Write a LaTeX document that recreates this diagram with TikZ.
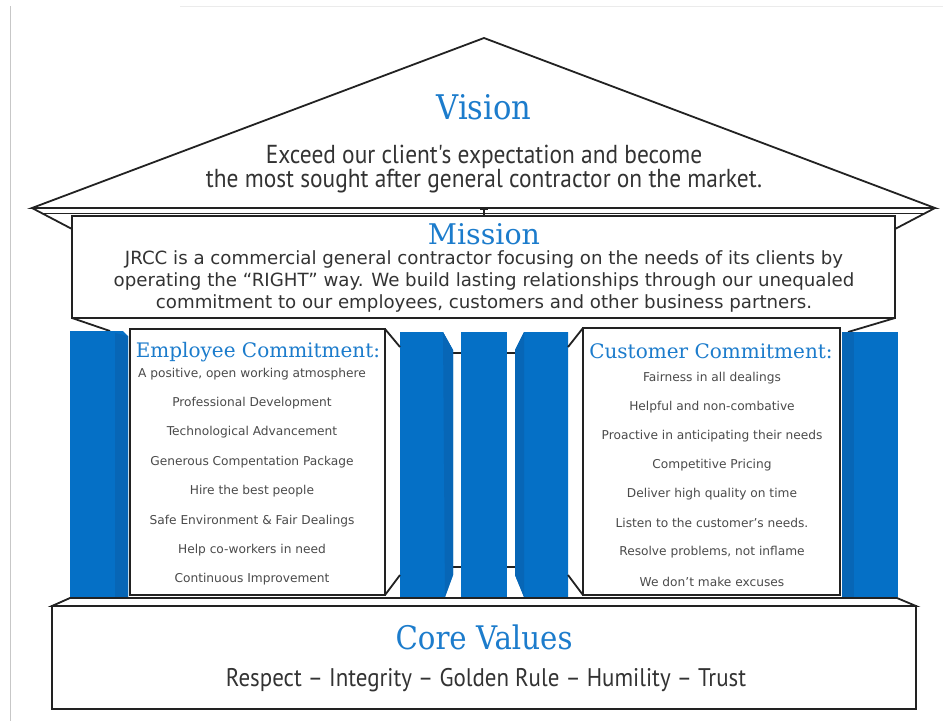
\documentclass[tikz,border=0pt]{standalone}
\usepackage{fontspec}
\setmainfont{DejaVu Sans}
\newfontfamily\slabfont{DejaVu Serif}
\newfontfamily\slabcond[FakeStretch=0.9]{DejaVu Serif}
\newfontfamily\narrowfont[FakeStretch=0.9]{PT Sans}
\definecolor{headblue}{HTML}{1C7CCC}
\definecolor{colblue}{HTML}{0570C6}
\definecolor{colside}{HTML}{0766B6}
\definecolor{bodygray}{HTML}{333333}
\definecolor{itemgray}{HTML}{4A4A4A}
\definecolor{frame}{HTML}{222222}
\tikzset{
  outline/.style={draw=frame,line width=1.8pt,line join=miter},
  thinline/.style={draw=frame,line width=1.3pt},
  column/.style={fill=colblue},
  colstrip/.style={fill=colside},
  heading/.style={text=headblue,inner sep=0pt,anchor=center},
  bodytext/.style={text=bodygray,inner sep=0pt,anchor=center},
  itemtext/.style={text=itemgray,inner sep=0pt,anchor=center,font=\fontsize{12.2}{14}\selectfont},
}
\begin{document}
\begin{tikzpicture}[x=1pt,y=-1pt]
\useasboundingbox (0,0) rectangle (943,721);
\fill[white] (0,0) rectangle (943,721);
% screenshot frame
\draw[draw=black!22,line width=1pt] (10,6) -- (10,721);
\draw[draw=black!8,line width=1pt] (180,6) -- (943,6);

% roof
\draw[outline,fill=white] (32,208) -- (484,38) -- (935,208) -- cycle;
\draw[outline] (42,213.5) -- (925,213.5);
\draw[outline] (32,208) -- (72,229);
\draw[outline] (935,208) -- (895,229);

% mission box
\draw[outline,fill=white] (72,216) rectangle (895,318);
\draw[thinline] (484,208) -- (484,216);
\draw[thinline] (480,209) -- (488,209);

% perspective lines under mission
\draw[outline] (72,318) -- (110,331);
\draw[outline] (895,318) -- (848,332);

% left column
\fill[column] (70,331) -- (123,331) -- (128,336) -- (128,597) -- (70,597) -- cycle;
\fill[colstrip] (115,333) -- (128,336) -- (128,597) -- (115,597) -- cycle;
% right column
\fill[column] (842,332) -- (898,332) -- (898,597) -- (842,597) -- cycle;
\fill[colstrip] (842,332) -- (854,332) -- (854,597) -- (842,597) -- cycle;

% back wall lines between centre columns
\draw[thinline] (450,353) -- (463,353);
\draw[thinline] (450,567) -- (463,567);
\draw[thinline] (505,353) -- (518,353);
\draw[thinline] (505,567) -- (518,567);

% centre columns
\fill[column] (400,332) -- (443,332) -- (453,350) -- (453,575) -- (445,597) -- (400,597) -- cycle;
\fill[colstrip] (443,332) -- (453,350) -- (453,575) -- (445,597) -- cycle;
\fill[column] (461,332) rectangle (507,597);
\fill[column] (515,350) -- (524,332) -- (568,332) -- (568,597) -- (524,597) -- (515,575) -- cycle;
\fill[colstrip] (515,350) -- (524,332) -- (524,597) -- (515,575) -- cycle;

% commitment boxes
\draw[outline,fill=white] (130,329) rectangle (385,595);
\draw[outline,fill=white] (583,328) rectangle (840,595);
\draw[outline] (385,329) -- (400,347);
\draw[outline] (385,595) -- (400,575);
\draw[outline] (583,328) -- (568,347);
\draw[outline] (583,595) -- (568,575);

% base
\draw[outline,fill=white] (52,606) -- (70,598) -- (897,598) -- (916,606) -- cycle;
\draw[outline,fill=white] (52,606) rectangle (916,709);

% texts
\node[heading,font=\slabcond\fontsize{34}{36}\selectfont] (vision) at (484,107) {Vision};
\node[bodytext,font=\narrowfont\fontsize{26}{28}\selectfont] (vis1) at (484,157) {Exceed our client's expectation and become};
\node[bodytext,font=\narrowfont\fontsize{26}{28}\selectfont] (vis2) at (484,181) {the most sought after general contractor on the market.};

\node[heading,font=\slabfont\fontsize{28.5}{30}\selectfont] (mission) at (484,234) {Mission};
\node[bodytext,font=\fontsize{18.2}{20}\selectfont] (mis1) at (484,259) {JRCC is a commercial general contractor focusing on the needs of its clients by};
\node[bodytext,font=\fontsize{18.2}{20}\selectfont] (mis2) at (484,281) {operating the “RIGHT” way. We build lasting relationships through our unequaled};
\node[bodytext,font=\fontsize{18.2}{20}\selectfont] (mis3) at (484,303) {commitment to our employees, customers and other business partners.};

\node[heading,font=\slabfont\fontsize{20}{22}\selectfont] (emp) at (258,352) {Employee Commitment:};
\node[itemtext] (e1) at (252,374) {A positive, open working atmosphere};
\node[itemtext] (e2) at (252,403) {Professional Development};
\node[itemtext] (e3) at (252,432) {Technological Advancement};
\node[itemtext] (e4) at (252,462) {Generous Compentation Package};
\node[itemtext] (e5) at (252,491) {Hire the best people};
\node[itemtext] (e6) at (252,521) {Safe Environment \& Fair Dealings};
\node[itemtext] (e7) at (252,550) {Help co-workers in need};
\node[itemtext] (e8) at (252,579) {Continuous Improvement};

\node[heading,font=\slabfont\fontsize{20}{22}\selectfont] (cust) at (711,351) {Customer Commitment:};
\node[itemtext] (c1) at (712,378) {Fairness in all dealings};
\node[itemtext] (c2) at (712,407) {Helpful and non-combative};
\node[itemtext] (c3) at (712,436) {Proactive in anticipating their needs};
\node[itemtext] (c4) at (712,465) {Competitive Pricing};
\node[itemtext] (c5) at (712,494) {Deliver high quality on time};
\node[itemtext] (c6) at (712,523) {Listen to the customer’s needs.};
\node[itemtext] (c7) at (712,552) {Resolve problems, not inflame};
\node[itemtext] (c8) at (712,582) {We don’t make excuses};

\node[heading,font=\slabcond\fontsize{32.5}{34}\selectfont] (core) at (484,637) {Core Values};
\node[bodytext,font=\narrowfont\fontsize{25.5}{28}\selectfont] (values) at (486,680) {Respect – Integrity – Golden Rule – Humility – Trust};
\end{tikzpicture}
\end{document}
